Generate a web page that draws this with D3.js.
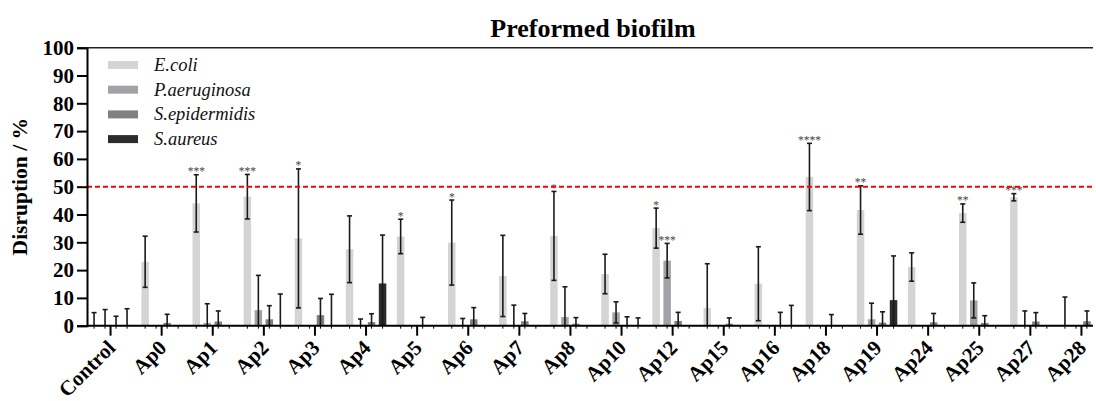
<!DOCTYPE html>
<html>
<head>
    <meta charset="utf-8">
    <title>Preformed biofilm</title>
    <script type="text/javascript" src="https://cdn.jsdelivr.net/npm/d3@7/dist/d3.min.js"></script>
    <style type="text/css">
        html, body {
            margin: 0;
            background: #fff;
        }
        svg {
            display: block;
            font-family: "Liberation Serif", "Times New Roman", serif;
        }
    </style>
</head>
<body>
<script type="text/javascript">
    var width = 1096, height = 401;

    var categories = ["Control", "Ap0", "Ap1", "Ap2", "Ap3", "Ap4", "Ap5", "Ap6", "Ap7", "Ap8",
        "Ap10", "Ap12", "Ap15", "Ap16", "Ap18", "Ap19", "Ap24", "Ap25", "Ap27", "Ap28"];
    var seriesNames = ["E.coli", "P.aeruginosa", "S.epidermidis", "S.aureus"];
    var seriesColors = ["#d4d4d4", "#a3a3a7", "#808080", "#2c2c2c"];

    // mean disruption (%) per category
    var ecoliMean = [0, 23, 44, 46.4, 31.4, 27.5, 32.1, 29.9, 17.9, 32.3, 18.6, 35.1, 6.4, 15.1, 53.5, 41.6, 21.1, 40.5, 46.2, 0];
    var paerMean  = [0, 0, 1, 5.6, 0, 0, 0, 0, 0, 3.1, 4.8, 23.4, 0, 0, 0, 2.3, 0, 9.1, 0, 0];
    var sepiMean  = [0, 1, 1.5, 2.3, 3.8, 1.3, 0, 2.3, 1.6, 0.7, 0, 1.7, 0.7, 0, 0, 1.1, 1.2, 1, 1.5, 1.6];
    var saurMean  = [0, 0, 0, 0, 0, 15.2, 0, 0, 0, 0, 0, 0, 0, 0, 0, 9.2, 0, 0, 0, 0];

    // error (SD), null = no error bar
    var ecoliSd = [4.7, 9.2, 10.3, 8, 25, 12, 6.2, 15.3, 14.6, 16, 7.1, 7.2, 15.9, 13.3, 12.1, 8.7, 5.1, 3.3, 1.3, 10.3];
    var paerSd  = [5.8, null, 6.9, 12.5, null, 2.4, null, 2.6, 7.4, 10.9, 3.8, 6.2, null, null, null, 5.8, null, 6.3, 5.3, null];
    var sepiSd  = [3.4, 3.1, 3.8, 4.9, 6, 3, 3, 4.2, 2.8, 2.2, 3.2, 3.1, 2.1, 4.8, 4, 3.9, 3.2, 2.6, 3.2, 3.7];
    var saurSd  = [6.1, null, null, 11.4, 11.3, 17.4, null, null, null, null, 2.8, null, null, 7.3, null, 15.9, null, null, null, null];

    // significance marks
    var ecoliStars = ["", "", "***", "***", "*", "", "*", "*", "", "*", "", "*", "", "", "****", "**", "", "**", "***", ""];
    var paerStars  = ["", "", "", "", "", "", "", "", "", "", "", "***", "", "", "", "", "", "", "", ""];

    var yTicks = [0, 10, 20, 30, 40, 50, 60, 70, 80, 90, 100];
    var threshold = 50;

    var means = [ecoliMean, paerMean, sepiMean, saurMean];
    var sds = [ecoliSd, paerSd, sepiSd, saurSd];
    var stars = [ecoliStars, paerStars, null, null];

    var rows = [];
    categories.forEach(function (c, i) {
        seriesNames.forEach(function (s, j) {
            rows.push({cat: c, ser: s, idx: j, v: means[j][i], sd: sds[j][i],
                star: stars[j] ? stars[j][i] : ""});
        });
    });

    var plotLeft = 87, plotRight = 1093, plotTop = 47.7, plotBottom = 325.7;

    var x = d3.scaleBand().domain(categories).range([85, 1107]).padding(0);
    var xs = d3.scaleBand().domain(seriesNames).range([-22, 22]);
    var y = d3.scaleLinear().domain([0, 100]).range([plotBottom, plotTop]);
    var color = d3.scaleOrdinal().domain(seriesNames).range(seriesColors);
    var barW = 7.5;

    function cx(d) { return x(d.cat) + x.bandwidth() / 2 + xs(d.ser) + xs.bandwidth() / 2; }

    var svg = d3.select("body").append("svg")
        .attr("width", width).attr("height", height);

    svg.append("defs").append("clipPath").attr("id", "plot")
        .append("rect").attr("x", plotLeft).attr("y", 0)
        .attr("width", plotRight - plotLeft).attr("height", height);

    var plot = svg.append("g").attr("clip-path", "url(#plot)");

    // bars
    plot.selectAll("rect.bar").data(rows.filter(function (d) { return d.v > 0; }))
        .enter().append("rect")
        .attr("class", "bar")
        .attr("x", function (d) { return cx(d) - barW / 2; })
        .attr("y", function (d) { return y(d.v); })
        .attr("width", barW)
        .attr("height", function (d) { return plotBottom - y(d.v); })
        .attr("fill", function (d) { return color(d.ser); });

    // error bars
    var eb = plot.selectAll("g.err").data(rows.filter(function (d) { return d.sd != null; }))
        .enter().append("g").attr("class", "err")
        .attr("stroke", "#1a1a1a").attr("stroke-width", 1.6);
    eb.append("line")
        .attr("x1", cx).attr("x2", cx)
        .attr("y1", function (d) { return y(Math.max(0, d.v - d.sd)); })
        .attr("y2", function (d) { return y(d.v + d.sd); });
    eb.append("line")
        .attr("x1", function (d) { return cx(d) - 2.5; })
        .attr("x2", function (d) { return cx(d) + 2.5; })
        .attr("y1", function (d) { return y(d.v + d.sd); })
        .attr("y2", function (d) { return y(d.v + d.sd); });
    eb.filter(function (d) { return d.v - d.sd > 0; }).append("line")
        .attr("x1", function (d) { return cx(d) - 2.5; })
        .attr("x2", function (d) { return cx(d) + 2.5; })
        .attr("y1", function (d) { return y(d.v - d.sd); })
        .attr("y2", function (d) { return y(d.v - d.sd); });

    // stars
    plot.selectAll("text.star").data(rows.filter(function (d) { return d.star; }))
        .enter().append("text")
        .attr("class", "star")
        .attr("x", cx)
        .attr("y", function (d) { return y(d.v + d.sd) + 0.5; })
        .attr("text-anchor", "middle")
        .attr("font-size", "11.5px")
        .attr("fill", "#444")
        .text(function (d) { return d.star; });

    // threshold line
    svg.append("line")
        .attr("x1", plotLeft).attr("x2", plotRight)
        .attr("y1", y(threshold)).attr("y2", y(threshold))
        .attr("stroke", "#ff0000").attr("stroke-width", 2)
        .attr("stroke-dasharray", "5,3");

    // y axis
    var yAxis = svg.append("g")
        .attr("transform", "translate(" + plotLeft + ",0)")
        .call(d3.axisLeft(y).tickValues(yTicks).tickSize(10).tickPadding(3));
    yAxis.select(".domain").attr("stroke", "#000").attr("stroke-width", 2);
    yAxis.selectAll(".tick line").attr("stroke", "#000").attr("stroke-width", 2);
    yAxis.selectAll(".tick text")
        .attr("font-family", "Liberation Serif, Times New Roman, serif")
        .attr("font-size", "21px").attr("font-weight", "bold").attr("fill", "#000");

    // top frame line
    svg.append("line")
        .attr("x1", plotLeft).attr("x2", plotRight)
        .attr("y1", plotTop).attr("y2", plotTop)
        .attr("stroke", "#222").attr("stroke-width", 1.5);

    // x axis
    var xAxis = svg.append("g")
        .attr("transform", "translate(0," + plotBottom + ")")
        .call(d3.axisBottom(x).tickSize(10).tickFormat(""));
    xAxis.select(".domain").remove();
    xAxis.selectAll(".tick line").attr("stroke", "#000").attr("stroke-width", 2);
    svg.append("line")
        .attr("x1", plotLeft).attr("x2", plotRight)
        .attr("y1", plotBottom).attr("y2", plotBottom)
        .attr("stroke", "#000").attr("stroke-width", 2);

    // minor ticks at each bar slot
    plot.selectAll("line.minor").data(rows)
        .enter().append("line")
        .attr("class", "minor")
        .attr("x1", cx).attr("x2", cx)
        .attr("y1", plotBottom).attr("y2", plotBottom + 3)
        .attr("stroke", "#000").attr("stroke-width", 1);

    // x labels
    svg.selectAll("text.xlab").data(categories)
        .enter().append("text")
        .attr("class", "xlab")
        .attr("transform", function (d) {
            return "translate(" + (x(d) + x.bandwidth() / 2 + 6) + "," + 349 + ") rotate(-45)";
        })
        .attr("text-anchor", "end")
        .attr("font-size", "21px")
        .attr("font-weight", "bold")
        .text(function (d) { return d; });

    // y title
    svg.append("text")
        .attr("transform", "translate(27," + ((plotTop + plotBottom) / 2) + ") rotate(-90)")
        .attr("text-anchor", "middle")
        .attr("font-size", "21.5px")
        .attr("font-weight", "bold")
        .text("Disruption / %");

    // title
    svg.append("text")
        .attr("x", 593).attr("y", 37)
        .attr("text-anchor", "middle")
        .attr("font-size", "26px")
        .attr("font-weight", "bold")
        .text("Preformed biofilm");

    // legend
    var legend = svg.selectAll("g.leg").data(seriesNames)
        .enter().append("g").attr("class", "leg")
        .attr("transform", function (d, i) { return "translate(108," + (65 + i * 24.7) + ")"; });
    legend.append("rect")
        .attr("x", 0).attr("y", -4).attr("width", 30).attr("height", 8)
        .attr("fill", function (d) { return color(d); });
    legend.append("text")
        .attr("x", 46).attr("y", 6)
        .attr("font-size", "18.5px")
        .attr("font-style", "italic")
        .attr("fill", "#111")
        .text(function (d) { return d; });
</script>
</body>
</html>
